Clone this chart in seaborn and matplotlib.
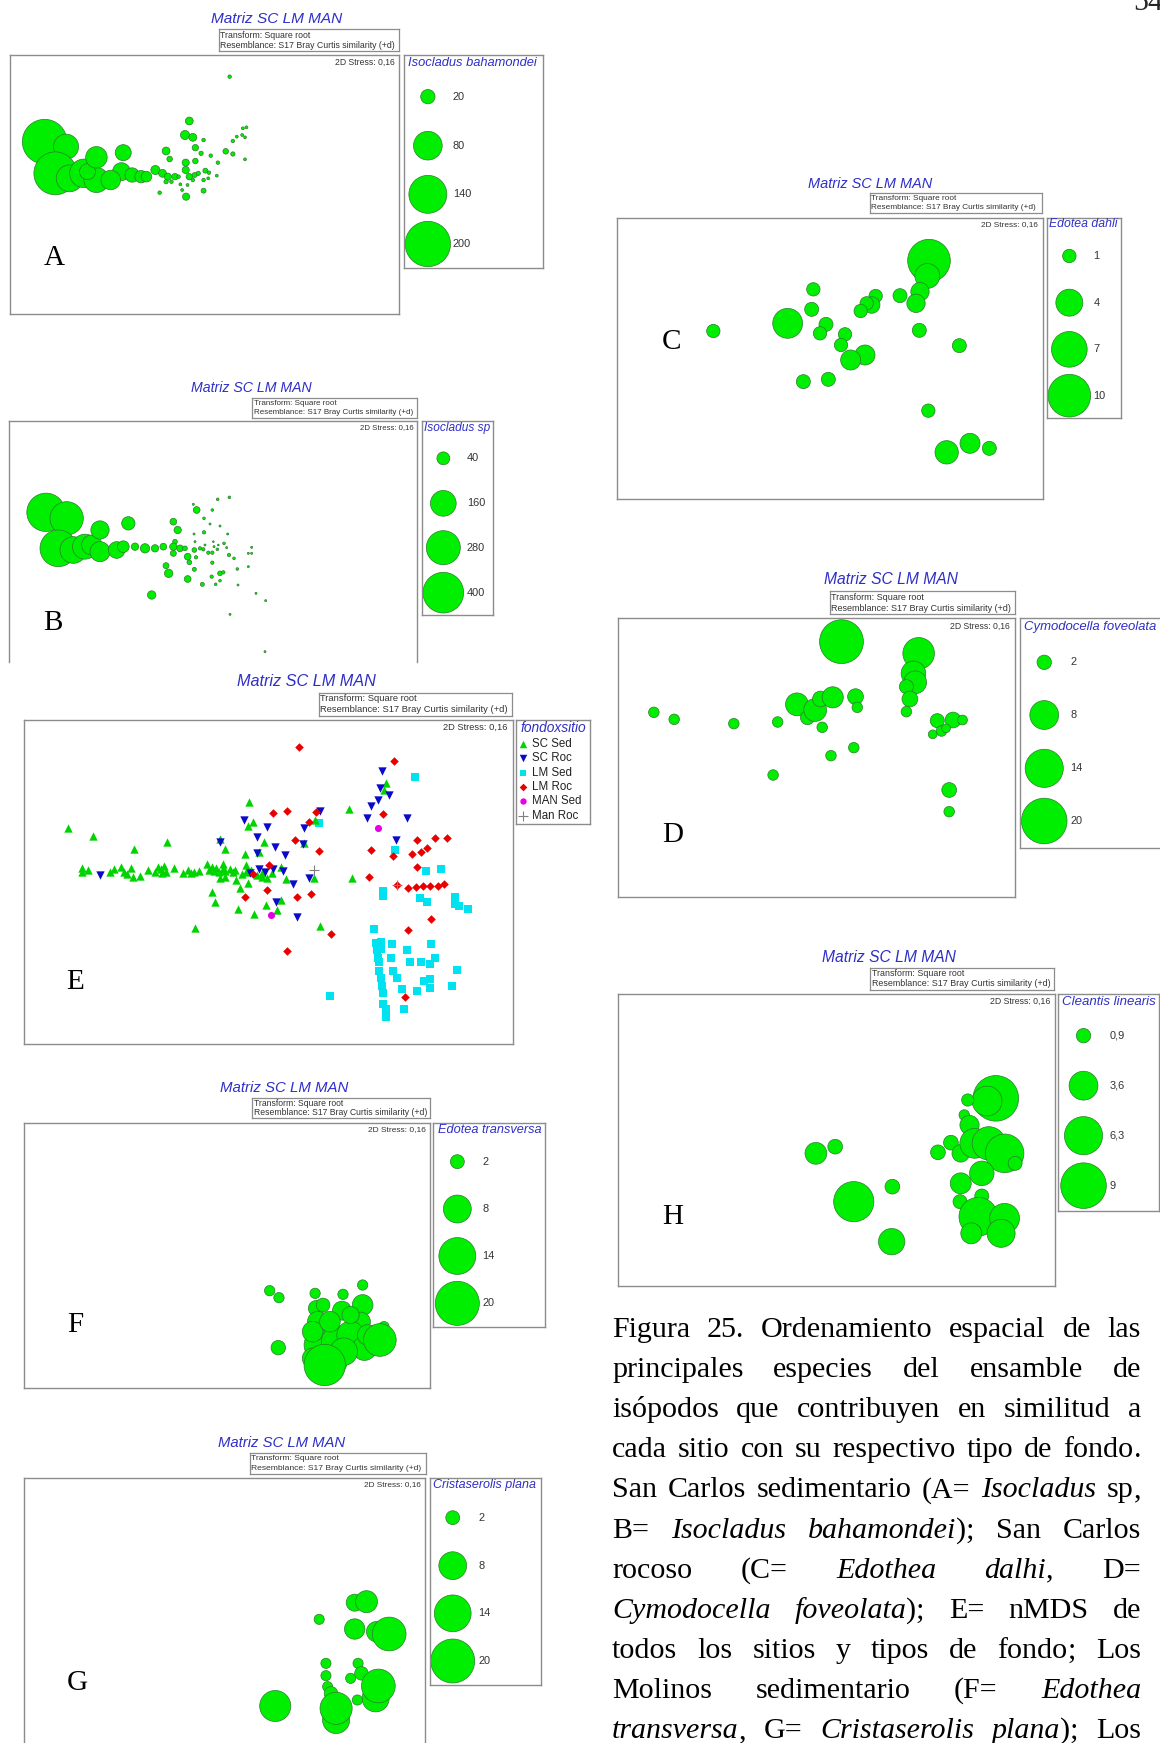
import numpy as np
import pandas as pd
import matplotlib
matplotlib.use("Agg")
import matplotlib.pyplot as plt
import seaborn as sns

sns.set_theme(style="white")
plt.rcParams["font.family"] = ["Liberation Sans", "DejaVu Sans"]

# ---------------------------------------------------------------- data
# nMDS coordinates (arbitrary units, MDS2 grows downward) and abundance
A_DATA = [(125,425,194),(185,440,61),(155,520,179),(195,535,70),(235,520,79),(270,540,61),(245,515,25),
          (270,472,45),(345,458,25),(340,515,31),(310,540,37),(370,525,20),(395,530,15),(435,510,8),(410,530,11),
          (455,520,6),(470,530,5),(490,530,4),(465,453,6),(475,477,3),(530,363,6),(518,405,8),(540,412,6),
          (547,443,4),(563,460,1.8),(520,488,5),(547,483,3),(570,420,1.2),(590,467,1.2),(610,488,1.2),(632,454,3),
          (652,462,1.8),(652,423,1.2),(663,410,0.8),(680,385,0.8),(690,382,0.8),(678,405,0.8),(686,412,0.8),
          (686,478,0.8),(643,230,1.2),(520,510,5),(530,530,4),(545,525,2.4),(575,512,2.4),(585,518,1.2),
          (570,540,1.2),(583,535,0.8),(607,527,0.8),(500,530,1.2),(465,545,1.8),(480,545,1.2),(505,553,0.8),
          (525,555,0.8),(447,578,1.2),(510,570,0.8),(521,590,5),(570,572,2.4),(555,520,1.8),(540,540,1.2)]
A_LEG_VALUES = [20, 80, 140, 200]
A_LEG_LABELS = ["20", "80", "140", "200"]

B_DATA = [(138,412,356),(200,430,269),(175,520,325),(220,525,172),(255,515,151),(275,510,97),(300,465,81),
          (300,530,97),(350,525,67),(385,445,43),(370,515,33),(405,515,13),(435,520,21),(465,520,13),(490,515,11),
          (520,440,11),(533,465,13),(525,500,5.3),(520,535,8.7),(540,520,11),(555,520,5.3),(563,545,11),
          (568,562,5.3),(583,525,5.3),(588,547,2.7),(600,520,2.7),(590,405,11),(580,388,1),(653,373,1.7),
          (688,367,1.7),(637,405,1.7),(612,430,1.7),(630,447,1),(660,453,1),(683,477,1),(612,472,2.7),(582,477,1),
          (585,500,1),(615,510,1),(640,500,0.7),(642,515,1),(655,510,0.7),(672,505,1.7),(680,518,1),(610,523,2.7),
          (625,533,2.7),(637,533,2.7),(652,523,1.7),(687,540,2.7),(702,550,1.7),(755,517,1),(745,535,1),(755,535,1),
          (498,572,8.7),(506,595,17),(583,583,3.9),(563,612,11),(637,563,2.7),(660,595,5.3),(670,592,2.7),
          (635,605,2.7),(660,617,1.7),(647,628,1.7),(607,628,3.9),(712,582,1.7),(745,575,1),(714,630,1),
          (455,660,17),(768,655,1),(797,677,1),(690,718,1),(795,830,1),(520,515,13)]
B_LEG_VALUES = [40, 160, 280, 400]
B_LEG_LABELS = ["40", "160", "280", "400"]

C_DATA = [(957,272,10),(952,318,3.4),(930,365,1.85),(918,400,1.85),(870,377,1.08),(797,378,0.98),(785,405,1.5),
          (770,400,0.98),(752,423,0.98),(610,358,0.98),(605,418,1.08),(533,460,4.9),(648,463,1.08),(630,490,0.98),
          (705,493,0.98),(693,525,0.98),(765,555,2.2),(722,570,2.2),(580,635,1.08),(655,628,1.08),(928,481,1.08),
          (1048,527,1.08),(955,722,0.98),(1010,847,3.0),(1080,820,2.2),(1138,835,1.08),(310,483,0.98)]
C_LEG_VALUES = [1, 4, 7, 10]
C_LEG_LABELS = ["1", "4", "7", "10"]

D_DATA = [(660,230,18.5),(880,265,9.6),(865,325,5.8),(870,352,5.0),(845,365,1.9),(855,402,2.4),(845,440,1.07),
          (533,418,5.0),(563,458,1.9),(585,435,5.0),(600,402,2.4),(635,397,4.3),(605,487,1.07),(700,395,2.4),
          (705,427,1.07),(125,442,1.07),(183,463,1.07),(353,476,1.07),(478,471,1.07),(630,572,1.07),(695,548,1.07),
          (465,630,1.07),(933,467,1.9),(978,465,2.4),(1005,465,0.93),(945,498,1.07),(920,508,0.74),(958,490,0.74),
          (967,675,2.1),(967,740,1.07)]
D_LEG_VALUES = [2, 8, 14, 20]
D_LEG_LABELS = ["2", "8", "14", "20"]

F_DATA = [(725,647,1.1),(752,668,1.1),(995,630,1.1),(857,655,1.1),(938,658,1.1),(750,818,2.15),(860,700,2.5),
          (935,707,3.7),(995,690,4.4),(865,740,4.4),(990,740,3.7),(1057,755,1.1),(870,810,9.9),(920,800,9.9),
          (960,780,7.8),(1000,820,6.0),(910,860,7.8),(850,770,4.4),(880,690,1.95),(900,740,4.4),(960,720,3.05),
          (940,830,7.8),(1010,780,4.4),(850,850,4.4),(1045,795,11.0),(885,870,17.6)]
F_LEG_VALUES = [2, 8, 14, 20]
F_LEG_LABELS = ["2", "8", "14", "20"]

G_DATA = [(885,568,1.07),(990,518,3.0),(1025,515,5.0),(990,597,4.3),(1055,605,4.3),(1092,612,11.8),
          (905,700,1.07),(1000,700,1.07),(905,737,1.07),(978,745,1.07),(1010,730,1.9),(1052,805,7.6),
          (1060,768,11.8),(998,810,1.07),(910,770,1.07),(920,790,1.9),(935,870,7.6),(935,835,10.7),(755,828,10.0)]
G_LEG_VALUES = [2, 8, 14, 20]
G_LEG_LABELS = ["2", "8", "14", "20"]

H_DATA = [(587,640,2.05),(642,620,0.94),(695,785,7.0),(805,740,0.94),(803,905,3.0),(935,637,0.94),(972,608,0.94),
          (1100,475,9.0),(1075,483,3.85),(1020,480,0.65),(1010,525,0.48),(1025,555,1.6),(1000,640,1.33),
          (1040,610,3.85),(1080,610,4.8),(1125,640,6.45),(1155,670,0.85),(1060,700,2.6),(1000,730,1.9),
          (998,785,0.85),(1060,768,0.85),(1050,830,6.45),(1125,835,3.85),(1115,880,3.4),(1030,880,1.9)]
H_LEG_VALUES = [0.9, 3.6, 6.3, 9]
H_LEG_LABELS = ["0,9", "3,6", "6,3", "9"]

E_SC_SED = [(130,490),(198,514),(307,553),(397,530),(541,522),(555,553),(620,410),(630,470),(615,482),(660,532),
            (608,568),(645,562),(168,608),(168,622),(185,615),(242,620),(255,612),(272,606),(282,620),(290,626),
            (300,610),(305,637),(325,632),(345,614),(365,620),(372,605),(380,612),(385,625),(390,602),(395,620),
            (417,610),(440,625),(455,615),(462,625),(470,620),(485,618),(505,596),(510,615),(518,605),(525,617),
            (530,608),(538,620),(548,596),(548,612),(555,618),(568,612),(575,620),(582,615),(540,640),(555,637),
            (585,645),(600,628),(610,620),(612,600),(625,615),(640,630),(655,625),(655,635),(668,638),(682,625),
            (706,605),(720,642),(595,668),(615,655),(518,682),(527,710),(590,731),(633,748),(665,720),(695,735),
            (705,705),(472,788),(810,782),(797,465),(767,535),(795,640),(888,432),(898,638),(990,355),(985,375)]
E_SC_ROC = [(215,630),(540,530),(605,465),(640,515),(668,485),(690,545),(717,571),(640,565),(622,625),(647,612),
            (663,620),(685,612),(712,618),(737,657),(693,710),(750,757),(767,490),(765,538),(812,437),(782,640),
            (978,317),(972,370),(998,390),(967,405),(948,423),(938,458),(1045,460),(1015,526)]
E_LM_SED = [(1067,335),(807,475),(1013,556),(1098,618),(1137,612),(982,677),(980,692),(1080,698),(1100,712),
            (1177,697),(1175,718),(1187,722),(1212,732),(957,793),(962,833),(977,831),(1005,838),(965,855),(975,853),
            (1045,856),(1110,838),(968,878),(970,892),(1002,880),(1055,892),(1083,890),(1107,897),(1122,878),
            (970,918),(1008,918),(1182,916),(975,938),(1020,938),(1092,947),(1107,942),(978,962),(1167,962),
            (1033,973),(1073,978),(1108,970),(980,985),(982,1018),(988,1032),(1037,1032),(990,1057),(838,992)]
E_LM_ROC = [(755,245),(1012,287),(685,445),(722,438),(800,440),(780,472),(744,525),(808,557),(950,555),(982,447),
            (1072,524),(1123,520),(1153,518),(1100,548),(1083,562),(1060,568),(1007,573),(673,600),(630,628),
            (943,636),(1073,605),(1050,670),(1070,665),(1088,662),(1108,662),(1130,662),(1145,658),(1018,660),
            (608,697),(668,675),(748,697),(787,688),(1112,763),(1048,796),(840,807),(723,858),(1042,997)]
E_MAN_SED = [(678,750),(968,488)]
E_MAN_ROC = [(795,615),(1018,660)]
E_GROUPS = ["SC Sed", "SC Roc", "LM Sed", "LM Roc", "MAN Sed", "Man Roc"]

CAPTION = [
    "Figura 25. Ordenamiento espacial de las",
    "principales especies del ensamble de",
    "isópodos que contribuyen en similitud a",
    "cada sitio con su respectivo tipo de fondo.",
    "San Carlos sedimentario (A= _Isocladus_ sp,",
    "B= _Isocladus bahamondei_); San Carlos",
    "rocoso (C= _Edothea dalhi_, D=",
    "_Cymodocella foveolata_); E= nMDS de",
    "todos los sitios y tipos de fondo; Los",
    "Molinos sedimentario (F= _Edothea_",
    "_transversa_, G= _Cristaserolis plana_); Los",
]

# ---------------------------------------------------------------- style
W, H = 1160, 1743
TITLE_BLUE = "#2f2fc8"
BORDER = "#8c8c8c"
BUBBLE = "#00ee00"
BUBBLE_EDGE = "#2b7d2b"
TXT = "#333333"

fig = plt.figure(figsize=(W / 100, H / 100), dpi=100)
fig.patch.set_facecolor("white")
renderer = fig.canvas.get_renderer()


def fit(t, target_px):
    bb = t.get_window_extent(renderer)
    if bb.width > 0:
        t.set_fontsize(t.get_fontsize() * target_px / bb.width)


def fpx(L, zx, zy):
    org = L["org"]
    return org[0] + zx / L["sx"], org[1] + zy / 3.0


def frame_axes(L, box, open_bottom=False, lw=1.0):
    x0, y0 = fpx(L, box[0], box[1])
    x1, y1 = fpx(L, box[2], box[3])
    ax = fig.add_axes([x0 / W, 1 - y1 / H, (x1 - x0) / W, (y1 - y0) / H])
    ax.set_xlim(box[0], box[2])
    ax.set_ylim(box[3], box[1])
    ax.set_xticks([])
    ax.set_yticks([])
    ax.set_facecolor("none")
    for s in ax.spines.values():
        s.set_visible(True)
        s.set_color(BORDER)
        s.set_linewidth(lw)
    if open_bottom:
        ax.spines["bottom"].set_visible(False)
    return ax


def finish(ax, box):
    ax.set_xlim(box[0], box[2])
    ax.set_ylim(box[3], box[1])
    ax.set_xlabel("")
    ax.set_ylabel("")


def header(L):
    tx, ty = fpx(L, *L["title"])
    t = fig.text(tx / W, 1 - ty / H, "Matriz SC LM MAN", ha="center", va="center",
                 style="italic", color=TITLE_BLUE, fontsize=11.2)
    fit(t, L["tw"][0])
    tb = frame_axes(L, L["tbox"], lw=0.9)
    t1 = tb.text(0.008, 0.73, "Transform: Square root", transform=tb.transAxes,
                 ha="left", va="center", fontsize=6.4, color=TXT)
    t2 = tb.text(0.008, 0.27, "Resemblance: S17 Bray Curtis similarity (+d)", transform=tb.transAxes,
                 ha="left", va="center", fontsize=6.4, color=TXT)
    bw = (L["tbox"][2] - L["tbox"][0]) / L["sx"]
    fit(t2, bw - 5)
    t1.set_fontsize(t2.get_fontsize())


def decorate(ax, L, letter):
    t = ax.text(L["stress"][0], L["stress"][1], "2D Stress: 0,16", ha="right", va="center",
                fontsize=6.0, color=TXT)
    fit(t, L["tw"][2])
    ax.text(L["letter"][0], L["letter"][1], letter, ha="center", va="center",
            family="Liberation Serif", fontsize=21, color="black")


def bubble_panel(L, data, leg_values, leg_labels, species, letter):
    header(L)
    ax = frame_axes(L, L["box"], L.get("open_bottom", False))
    df = pd.DataFrame(data, columns=["MDS1", "MDS2", "abund"])
    vmax = max(leg_values)
    smax = (0.72 * L["dmax"] / L["sx"]) ** 2
    sns.scatterplot(data=df, x="MDS1", y="MDS2", size="abund", sizes=(0, smax),
                    size_norm=(0, vmax), color=BUBBLE, edgecolor=BUBBLE_EDGE,
                    linewidth=0.5, legend=False, ax=ax)
    finish(ax, L["box"])
    decorate(ax, L, letter)

    lg = frame_axes(L, L["legbox"])
    ldf = pd.DataFrame({"x": [L["leg_cx"]] * len(leg_values), "y": L["leg_ys"], "abund": leg_values})
    sns.scatterplot(data=ldf, x="x", y="y", size="abund", sizes=(0, smax), size_norm=(0, vmax),
                    color=BUBBLE, edgecolor=BUBBLE_EDGE, linewidth=0.5, legend=False, ax=lg)
    finish(lg, L["legbox"])
    t = lg.text(L["legtitle_x"], L["legtitle_y"], species, ha="left", va="center",
                style="italic", color=TITLE_BLUE, fontsize=9.4)
    fit(t, L["tw"][1])
    for yv, lab in zip(L["leg_ys"], leg_labels):
        lg.text(L["leg_lx"], yv, lab, ha="left", va="center", fontsize=7.9, color=TXT)


# tw = target text widths in px: (title, legend title, stress)
LAY_A = dict(org=(0, 0), sx=2.8, title=(775, 58), tbox=(612, 88, 1117, 153), box=(28, 165, 1118, 942),
             stress=(1105, 188), letter=(152, 775), legbox=(1130, 165, 1519, 805), legtitle_x=1143,
             legtitle_y=188, leg_cx=1198, leg_lx=1268, leg_ys=[290, 437, 583, 732], dmax=127,
             tw=(131, 129, 60))
LAY_B = dict(org=(0, 375), sx=3.0, title=(755, 40), tbox=(757, 68, 1252, 130), box=(28, 137, 1252, 862),
             stress=(1240, 158), letter=(158, 745), legbox=(1265, 137, 1480, 720), legtitle_x=1272,
             legtitle_y=158, leg_cx=1330, leg_lx=1400, leg_ys=[250, 385, 518, 653], dmax=122, open_bottom=True,
             tw=(120, 66, 54))
LAY_C = dict(org=(610, 170), sx=3.0, title=(780, 42), tbox=(780, 70, 1295, 130), box=(22, 143, 1298, 988),
             stress=(1283, 163), letter=(185, 515), legbox=(1310, 143, 1533, 745), legtitle_x=1318,
             legtitle_y=163, leg_cx=1378, leg_lx=1450, leg_ys=[258, 398, 538, 677], dmax=128,
             tw=(124, 68, 57))
LAY_D = dict(org=(610, 565), sx=2.851, title=(800, 45), tbox=(627, 78, 1155, 148), box=(22, 160, 1155, 997),
             stress=(1140, 185), letter=(180, 810), legbox=(1168, 160, 1700, 848), legtitle_x=1180,
             legtitle_y=185, leg_cx=1238, leg_lx=1312, leg_ys=[292, 450, 610, 768], dmax=130,
             tw=(133, 133, 60))
LAY_E = dict(org=(20, 665), sx=2.703, title=(775, 50), tbox=(808, 83, 1330, 152), box=(12, 165, 1332, 1138),
             stress=(1318, 188), letter=(150, 950), legbox=(1342, 165, 1540, 477), legtitle_x=1352,
             legtitle_y=188, leg_mx=1360, leg_lx=1385, leg_ys=[237, 280, 323, 366, 409, 453],
             tw=(139, 66, 64))
LAY_F = dict(org=(20, 1075), sx=2.904, title=(768, 40), tbox=(675, 68, 1190, 130), box=(12, 143, 1192, 940),
             stress=(1178, 165), letter=(160, 750), legbox=(1200, 143, 1525, 755), legtitle_x=1213,
             legtitle_y=165, leg_cx=1270, leg_lx=1343, leg_ys=[260, 402, 543, 685], dmax=128,
             tw=(128, 103, 58))
LAY_G = dict(org=(20, 1430), sx=2.958, title=(775, 40), tbox=(680, 68, 1200, 132), box=(12, 145, 1198, 945),
             stress=(1185, 165), letter=(170, 760), legbox=(1212, 145, 1540, 765), legtitle_x=1222,
             legtitle_y=165, leg_cx=1280, leg_lx=1355, leg_ys=[263, 407, 550, 693], dmax=130, open_bottom=True,
             tw=(127, 103, 57))
LAY_H = dict(org=(610, 940), sx=2.851, title=(795, 52), tbox=(742, 83, 1267, 150), box=(22, 162, 1270, 1038),
             stress=(1255, 185), letter=(180, 830), legbox=(1278, 162, 1565, 812), legtitle_x=1290,
             legtitle_y=185, leg_cx=1350, leg_lx=1425, leg_ys=[287, 437, 587, 737], dmax=130,
             tw=(133, 93, 61))

bubble_panel(LAY_A, A_DATA, A_LEG_VALUES, A_LEG_LABELS, "Isocladus bahamondei", "A")
bubble_panel(LAY_B, B_DATA, B_LEG_VALUES, B_LEG_LABELS, "Isocladus sp", "B")
bubble_panel(LAY_C, C_DATA, C_LEG_VALUES, C_LEG_LABELS, "Edotea dahli", "C")
bubble_panel(LAY_D, D_DATA, D_LEG_VALUES, D_LEG_LABELS, "Cymodocella foveolata", "D")
bubble_panel(LAY_F, F_DATA, F_LEG_VALUES, F_LEG_LABELS, "Edotea transversa", "F")
bubble_panel(LAY_G, G_DATA, G_LEG_VALUES, G_LEG_LABELS, "Cristaserolis plana", "G")
bubble_panel(LAY_H, H_DATA, H_LEG_VALUES, H_LEG_LABELS, "Cleantis linearis", "H")

# ---------------------------------------------------------------- panel E
E_STYLE = {
    "SC Sed": dict(marker="^", color="#00d400", s=36),
    "SC Roc": dict(marker="v", color="#0a0ac8", s=36),
    "LM Sed": dict(marker="s", color="#00e2f0", s=27),
    "LM Roc": dict(marker="D", color="#e80000", s=19),
    "MAN Sed": dict(marker="o", color="#e600e6", s=26),
    "Man Roc": dict(marker="+", color="#808080", s=44),
}
header(LAY_E)
axE = frame_axes(LAY_E, LAY_E["box"])
rows = []
for g, pts in zip(E_GROUPS, [E_SC_SED, E_SC_ROC, E_LM_SED, E_LM_ROC, E_MAN_SED, E_MAN_ROC]):
    for (x, y) in pts:
        rows.append((x, y, g))
dfE = pd.DataFrame(rows, columns=["MDS1", "MDS2", "fondoxsitio"])
for g in ["LM Sed", "SC Sed", "SC Roc", "LM Roc", "MAN Sed", "Man Roc"]:
    st = E_STYLE[g]
    sub = dfE[dfE["fondoxsitio"] == g]
    if st["marker"] == "+":
        sns.scatterplot(data=sub, x="MDS1", y="MDS2", marker="+", color=st["color"], s=st["s"],
                        linewidth=0.8, legend=False, ax=axE)
    else:
        sns.scatterplot(data=sub, x="MDS1", y="MDS2", marker=st["marker"], color=st["color"], s=st["s"],
                        linewidth=0, legend=False, ax=axE)
finish(axE, LAY_E["box"])
decorate(axE, LAY_E, "E")
lgE = frame_axes(LAY_E, LAY_E["legbox"])
tE = lgE.text(LAY_E["legtitle_x"], LAY_E["legtitle_y"], "fondoxsitio", ha="left", va="center",
              style="italic", color=TITLE_BLUE, fontsize=10)
fit(tE, LAY_E["tw"][1])
for g, yv in zip(E_GROUPS, LAY_E["leg_ys"]):
    st = E_STYLE[g]
    if st["marker"] == "+":
        lgE.scatter([LAY_E["leg_mx"]], [yv], marker="+", color=st["color"], s=st["s"], linewidth=0.8)
    else:
        lgE.scatter([LAY_E["leg_mx"]], [yv], marker=st["marker"], color=st["color"], s=st["s"] * 0.8,
                    linewidth=0)
    lgE.text(LAY_E["leg_lx"], yv, g, ha="left", va="center", fontsize=8.3, color="#222222")
finish(lgE, LAY_E["legbox"])

# ---------------------------------------------------------------- caption & page number
SERIF = "Liberation Serif"
CAP_SIZE = 21.6
CAP_LEFT, CAP_RIGHT = 612, 1141
CAP_BASE0, CAP_STEP = 1337, 40.1


def parse(line):
    words, ital = [], False
    for w in line.split(" "):
        segs = []
        for i, p in enumerate(w.split("_")):
            if i > 0:
                ital = not ital
            if p:
                # keep trailing punctuation as its own piece
                if len(p) > 1 and p[-1] in ";,." and p[:-1].isalpha():
                    segs.append((p[:-1], ital))
                    segs.append((p[-1], False))
                else:
                    segs.append((p, ital))
        words.append(segs)
    return words


for li, line in enumerate(CAPTION):
    yb = CAP_BASE0 + li * CAP_STEP
    words = parse(line)
    objs = []
    widths = []
    for segs in words:
        wobjs = []
        wsum = 0.0
        for txt, it in segs:
            t = fig.text(0, 1 - yb / H, txt, family=SERIF, fontsize=CAP_SIZE,
                         style="italic" if it else "normal", ha="left", va="baseline", color="black")
            bb = t.get_window_extent(renderer)
            wobjs.append((t, bb.width))
            wsum += bb.width
        objs.append(wobjs)
        widths.append(wsum)
    gap = (CAP_RIGHT - CAP_LEFT - sum(widths)) / max(1, len(words) - 1)
    x = CAP_LEFT
    for wobjs, wsum in zip(objs, widths):
        xx = x
        for t, wd in wobjs:
            t.set_x(xx / W)
            xx += wd
        x += wsum + gap

fig.text(1148 / W, 1 - 10.5 / H, "54", family=SERIF, fontsize=CAP_SIZE, ha="center", va="baseline")

fig.savefig("out.png", dpi=100, facecolor="white")
